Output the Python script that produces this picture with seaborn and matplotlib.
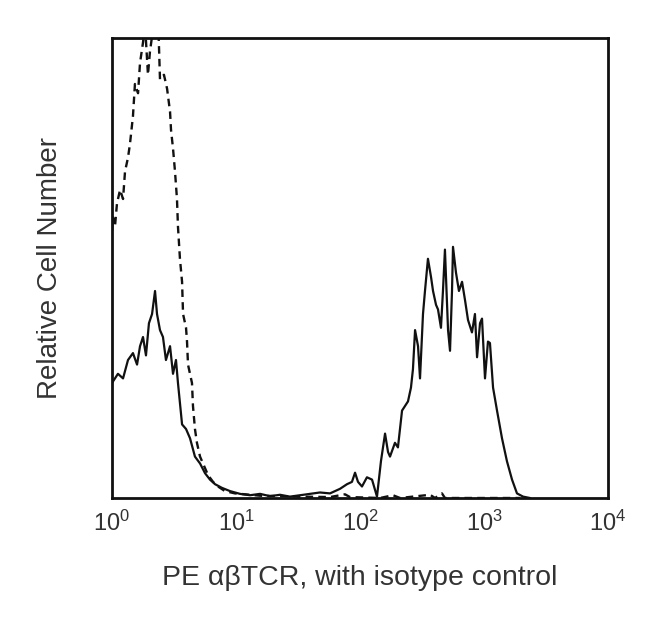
import numpy as np
import pandas as pd
import matplotlib
matplotlib.use("Agg")
import matplotlib.pyplot as plt
import seaborn as sns

# log10 fluorescence (decades) and relative cell counts (0-100 scale)
stained_log = [0.000, 0.048, 0.089, 0.129, 0.169, 0.202, 0.226, 0.250, 0.274, 0.298,
               0.323, 0.347, 0.363, 0.387, 0.411, 0.435, 0.468, 0.492, 0.516, 0.532,
               0.565, 0.597, 0.629, 0.669, 0.710, 0.750, 0.790, 0.831, 0.887, 0.952,
               1.032, 1.113, 1.194, 1.274, 1.355, 1.435, 1.516, 1.597, 1.677, 1.758,
               1.839, 1.895, 1.935, 1.960, 1.984, 2.016, 2.056, 2.097, 2.137, 2.169,
               2.202, 2.226, 2.242, 2.282, 2.306, 2.339, 2.387, 2.411, 2.427, 2.444,
               2.468, 2.484, 2.508, 2.524, 2.548, 2.573, 2.589, 2.613, 2.629, 2.653,
               2.669, 2.685, 2.710, 2.726, 2.742, 2.750, 2.774, 2.798, 2.823, 2.847,
               2.871, 2.903, 2.927, 2.944, 2.968, 2.984, 3.008, 3.032, 3.048, 3.073,
               3.105, 3.145, 3.185, 3.226, 3.266, 3.315, 3.371]
stained_cnt = [25, 27, 26, 30, 31.5, 29, 33, 35, 31, 38,
               40, 45, 40, 36.5, 35, 30, 33, 27, 30, 25,
               16, 15, 13, 9, 7.5, 5.4, 4, 3, 2.2, 1.5,
               0.9, 0.6, 0.9, 0.4, 0.7, 0.3, 0.6, 0.9, 1.2, 1.0,
               2.0, 3.0, 3.5, 5.5, 3.5, 2.5, 4.5, 4.0, 0.3, 8,
               14, 10, 9, 12, 11, 19, 21, 24, 28, 36.5,
               33, 26, 40, 45, 52, 48, 45, 42, 41, 37,
               45, 54, 36.5, 32, 45, 54.6, 49, 45, 47, 43,
               38.7, 36, 40, 30.6, 38, 39, 26, 34, 33.7, 24,
               19, 13, 8, 4, 1, 0.3, 0]

isotype_log = [0.000, 0.008, 0.024, 0.040, 0.065, 0.089, 0.105, 0.129, 0.145, 0.169,
               0.185, 0.210, 0.226, 0.250, 0.266, 0.290, 0.306, 0.331, 0.347, 0.371,
               0.387, 0.419, 0.444, 0.468, 0.476, 0.492, 0.508, 0.524, 0.532, 0.548,
               0.565, 0.573, 0.597, 0.605, 0.613, 0.629, 0.645, 0.653, 0.669, 0.685,
               0.710, 0.742, 0.774, 0.815, 0.855, 0.911, 0.992, 1.073, 1.194, 1.355,
               1.516, 1.758, 1.879, 1.919, 2.161, 2.266, 2.323, 2.565, 2.605, 2.661,
               2.685, 3.290]
isotype_cnt = [58, 61, 59, 64, 67, 65, 71, 74, 77, 83,
               90, 88, 94.6, 99, 103, 92, 97, 102, 104, 105,
               91, 92, 89, 84, 80, 76, 71, 65, 59, 52,
               47, 40, 37, 34, 29, 27, 25, 20, 15, 12,
               9, 7, 5, 3.5, 2.5, 1.5, 1, 0.8, 0.5, 0.4,
               0.3, 0.2, 0.8, 0.2, 0, 0.6, 0, 0.7, 0, 1,
               0, 0]

tick_values = [1, 10, 100, 1000, 10000]
tick_labels = ["$10^{0}$", "$10^{1}$", "$10^{2}$", "$10^{3}$", "$10^{4}$"]
x_label = "PE αβTCR, with isotype control"
y_label = "Relative Cell Number"

sns.set_theme(style="white")
plt.rcParams["font.family"] = ["Liberation Sans", "DejaVu Sans"]
plt.rcParams["mathtext.fontset"] = "custom"
plt.rcParams["mathtext.rm"] = "Liberation Sans"
plt.rcParams["mathtext.it"] = "Liberation Sans"

stained = pd.DataFrame({"fl": np.power(10.0, stained_log), "count": stained_cnt})
isotype = pd.DataFrame({"fl": np.power(10.0, isotype_log), "count": isotype_cnt})

fig = plt.figure(figsize=(6.5, 6.24), dpi=100)
ax = fig.add_axes([112 / 650, 1 - 498 / 624, 496 / 650, 460 / 624])

sns.lineplot(data=isotype, x="fl", y="count", estimator=None, sort=False,
             color="#111111", lw=1.7, linestyle=(0, (3.2, 2.2)), ax=ax)
sns.lineplot(data=stained, x="fl", y="count", estimator=None, sort=False,
             color="#111111", lw=1.6, ax=ax)

ax.set_xscale("log")
ax.set_xlim(1, 10000)
ax.set_ylim(0, 100)
ax.set_xticks(tick_values)
ax.set_xticklabels(tick_labels)
ax.minorticks_off()
ax.set_yticks([])
ax.tick_params(axis="x", length=0, pad=9, labelsize=17, colors="#333333")
for s in ax.spines.values():
    s.set_linewidth(2.0)
    s.set_color("#111111")
ax.set_xlabel(x_label, fontsize=20.5, color="#333333", labelpad=21)
ax.set_ylabel(y_label, fontsize=20, color="#333333", labelpad=35)

fig.savefig("out.png", dpi=100)
